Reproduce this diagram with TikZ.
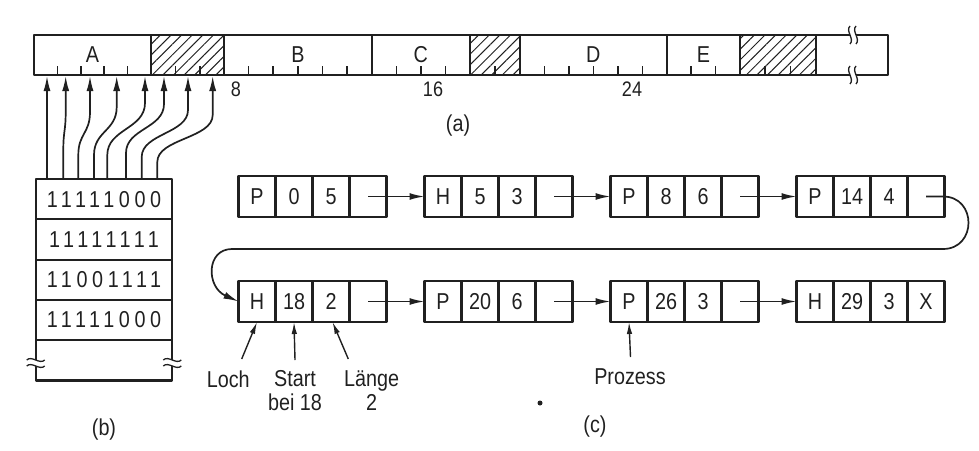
\documentclass[tikz,border=0pt]{standalone}
\usepackage{fontspec}
\setmainfont{Liberation Sans}[FakeStretch=0.86]
\usetikzlibrary{arrows.meta,patterns.meta,calc}
\definecolor{ink}{HTML}{202020}
\newcommand{\lbox}[7]{%
  \node[cell] (#1-1) at (#2,#3) {#4};
  \node[cell] (#1-2) at ({#2+37},#3) {#5};
  \node[cell] (#1-3) at ({#2+74},#3) {#6};
  \node[cell] (#1-4) at ({#2+111},#3) {#7};}
\newcommand{\vbreak}[2]{% x, y : vertical wavy break across a horizontal line
  \fill[white] ({#1-3},{#2-9}) .. controls ({#1-8},{#2-4}) and ({#1+2},{#2+4}) .. ({#1-3},{#2+9})
     -- ({#1+3},{#2+9}) .. controls ({#1+8},{#2+4}) and ({#1-2},{#2-4}) .. ({#1+3},{#2-9}) -- cycle;
  \draw[brk] ({#1-3},{#2-9}) .. controls ({#1-8},{#2-4}) and ({#1+2},{#2+4}) .. ({#1-3},{#2+9});
  \draw[brk] ({#1+3},{#2-9}) .. controls ({#1-2},{#2-4}) and ({#1+8},{#2+4}) .. ({#1+3},{#2+9});}
\newcommand{\hbreak}[2]{% x, y : horizontal wavy break across a vertical line
  \fill[white] ({#1-9},{#2-3}) .. controls ({#1-4},{#2-8}) and ({#1+4},{#2+2}) .. ({#1+9},{#2-3})
     -- ({#1+9},{#2+3}) .. controls ({#1+4},{#2+8}) and ({#1-4},{#2-2}) .. ({#1-9},{#2+3}) -- cycle;
  \draw[brk] ({#1-9},{#2-3}) .. controls ({#1-4},{#2-8}) and ({#1+4},{#2+2}) .. ({#1+9},{#2-3});
  \draw[brk] ({#1-9},{#2+3}) .. controls ({#1-4},{#2-2}) and ({#1+4},{#2+8}) .. ({#1+9},{#2+3});}
\begin{document}
\begin{tikzpicture}[x=1pt,y=-1pt,line join=round,
  every node/.style={text=ink,font=\fontsize{23}{24}\selectfont},
  seg/.style={draw=ink,line width=2.2pt,minimum height=40pt,inner sep=0pt,outer sep=0pt,anchor=west},
  hatch/.style={pattern={Lines[angle=45,distance=7.5pt,line width=1pt]},pattern color=ink},
  tick/.style={draw=ink,line width=1.6pt},
  cell/.style={draw=ink,line width=2.2pt,minimum width=37pt,minimum height=41pt,inner sep=0pt,outer sep=0pt,anchor=north west},
  bitrow/.style={draw=ink,line width=2.2pt,minimum width=136.6pt,minimum height=40.3pt,inner sep=0pt,outer sep=0pt,anchor=north west,
     font=\fontsize{23}{24}\selectfont\addfontfeature{LetterSpace=20}},
  arr/.style={draw=ink,line width=1.7pt,-{Latex[length=15pt,width=7pt]}},
  larr/.style={draw=ink,line width=1.4pt,-{Latex[length=12pt,width=5.5pt]}},
  brk/.style={draw=ink,line width=1.3pt},
  numlbl/.style={font=\fontsize{21}{22}\selectfont}]
\useasboundingbox (0,0) rectangle (979,450);

% ---------- (a) memory bar ----------
\node[seg,minimum width=117pt] (A) at (34,55) {A};
\node[seg,hatch,minimum width=73pt] (h1) at (151,55) {};
\node[seg,minimum width=147.7pt] (B) at (224,55) {B};
\node[seg,minimum width=98.3pt] (C) at (371.7,55) {C};
\node[seg,hatch,minimum width=50pt] (h2) at (470,55) {};
\node[seg,minimum width=146.7pt] (D) at (520,55) {D};
\node[seg,minimum width=73.3pt] (E) at (666.7,55) {E};
\node[seg,hatch,minimum width=75.7pt] (h3) at (740,55) {};
\node[seg,minimum width=72.3pt] (rest) at (815.7,55) {};
\foreach \x in {57.4,80.8,104.2,127.6,175.3,199.7,248.6,273.2,297.8,322.5,347.1,
                396.3,420.9,445.4,495,544.5,568.9,593.4,617.8,642.3,691.1,715.5,765.2,790.5}
  \draw[tick] (\x,75) -- (\x,66);
\vbreak{853}{35}
\vbreak{853}{75}
\node[numlbl] (n8) at (236,89) {8};
\node[numlbl] (n16) at (433,89) {16};
\node[numlbl] (n24) at (632,89) {24};
\node (la) at (458,126) {(a)};

% ---------- (b) bitmap ----------
\node[bitrow] (r1) at (35.7,179) {11111000};
\node[bitrow] (r2) at (35.7,219.3) {11111111};
\node[bitrow] (r3) at (35.7,259.6) {11001111};
\node[bitrow] (r4) at (35.7,299.9) {11111000};
\node[bitrow] (r5) at (35.7,340.2) {};
\hbreak{35.7}{363}
\hbreak{172.3}{363}
\node (lb) at (104,430) {(b)};

% bit -> unit arrows
\foreach \i/\xs/\xe/\yb/\yt in {0/47/47/150/110,1/63.3/65.7/150/112,2/78.3/90/155/112,3/94/116.7/155/107,
      4/107.3/145/155/103,5/126/164/153/104,6/141.7/188/157/110,7/157.3/212.7/162/115}{
  \coordinate (s\i) at (\xs,179);
  \coordinate (b\i) at (\xe,76);
  \draw[arr] (s\i) -- (\xs,\yb) .. controls (\xs,{(\yb+\yt)/2}) and (\xe,{(\yb+\yt)/2}) .. (\xe,\yt) -- (b\i);
}

% ---------- (c) list ----------
\lbox{L1}{238.5}{176}{P}{0}{5}{}
\lbox{L2}{424.5}{176}{H}{5}{3}{}
\lbox{L3}{610.5}{176}{P}{8}{6}{}
\lbox{L4}{796.5}{176}{P}{14}{4}{}
\lbox{L5}{238.5}{281}{H}{18}{2}{}
\lbox{L6}{424.5}{281}{P}{20}{6}{}
\lbox{L7}{610.5}{281}{P}{26}{3}{}
\lbox{L8}{796.5}{281}{H}{29}{3}{X}

\draw[arr] (L1-4.center) -- (L2-1.west);
\draw[arr] (L2-4.center) -- (L3-1.west);
\draw[arr] (L3-4.center) -- (L4-1.west);
\draw[arr] (L4-4.center) -- (943,196.5) .. controls (977,196.5) and (977,249) .. (943,249)
   -- (232,249) .. controls (206,249) and (206,287) .. (L5-1.west);
\draw[arr] (L5-4.center) -- (L6-1.west);
\draw[arr] (L6-4.center) -- (L7-1.west);
\draw[arr] (L7-4.center) -- (L8-1.west);

\node (loch) at (228.3,379) {Loch};
\node[align=center] (start) at (295,391) {Start\\bei 18};
\node[align=center] (laenge) at (371.7,391) {Länge\\2};
\node (proz) at (630,377) {Prozess};
\coordinate (tl) at (241.7,359);
\coordinate (ts) at (295,360);
\coordinate (tg) at (348.3,359);
\coordinate (tp) at (630.5,357);
\draw[larr] (tl) -- (L5-1.south);
\draw[larr] (ts) -- (L5-2.south);
\draw[larr] (tg) -- ([xshift=1.5pt]L5-3.south);
\draw[larr] (tp) -- (L7-1.south);

\fill[ink] (540,403) circle (2.5pt);
\node (lc) at (595,427) {(c)};
\end{tikzpicture}
\end{document}
